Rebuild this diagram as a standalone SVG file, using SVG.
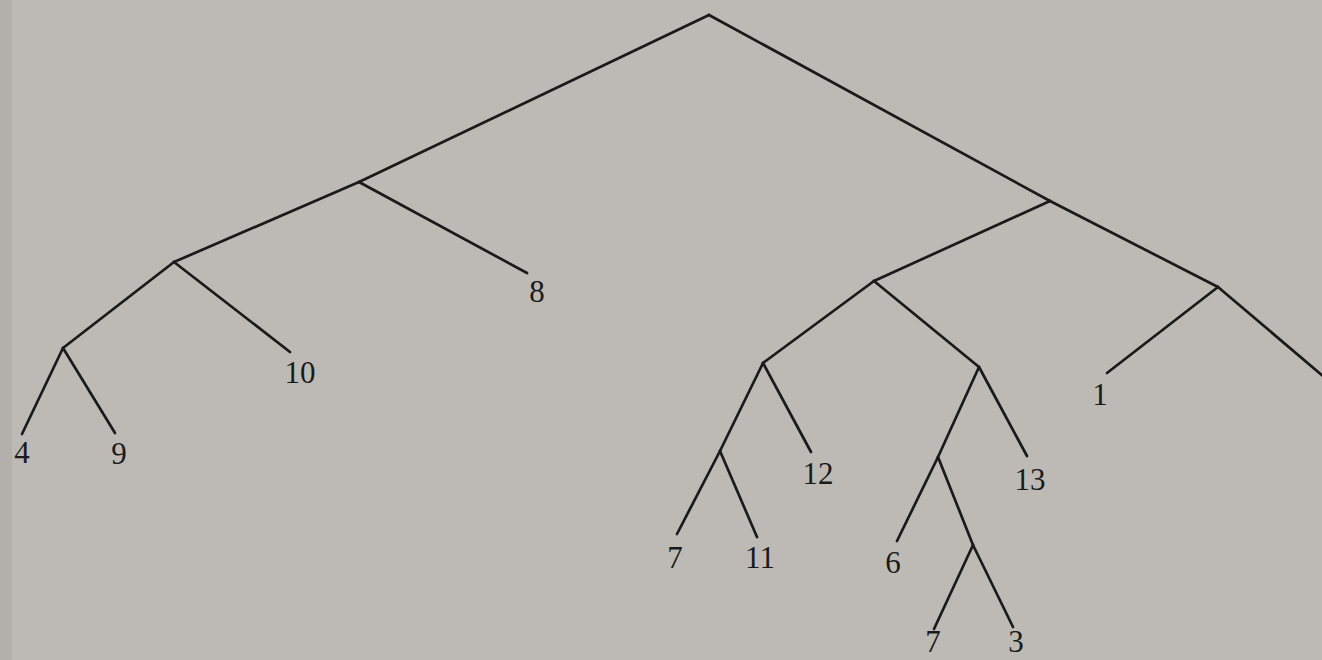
<svg xmlns="http://www.w3.org/2000/svg" width="1322" height="660" viewBox="0 0 1322 660">
  <style>
    .edge { stroke: #1a1a1a; stroke-width: 2.7; stroke-linecap: round; fill: none; }
    .lbl { font-family: "Liberation Serif", "Times New Roman", serif; font-size: 31px; fill: #1a1a1a; text-anchor: middle; }
  </style>
  <rect x="0" y="0" width="1322" height="660" fill="#bdbab5"/>
  <rect x="0" y="0" width="12" height="660" fill="#b3b0ab"/>
  <g id="connectors">
    <line class="edge" x1="709" y1="15" x2="359" y2="182"/>
    <line class="edge" x1="359" y1="182" x2="174" y2="262"/>
    <line class="edge" x1="174" y1="262" x2="63" y2="348"/>
    <line class="edge" x1="63" y1="348" x2="22" y2="434"/>
    <line class="edge" x1="63" y1="348" x2="115" y2="433"/>
    <line class="edge" x1="174" y1="262" x2="290" y2="352"/>
    <line class="edge" x1="359" y1="182" x2="527" y2="273"/>
    <line class="edge" x1="709" y1="15" x2="1050" y2="201"/>
    <line class="edge" x1="1050" y1="201" x2="874" y2="281"/>
    <line class="edge" x1="874" y1="281" x2="763" y2="363"/>
    <line class="edge" x1="763" y1="363" x2="720" y2="451"/>
    <line class="edge" x1="720" y1="451" x2="677" y2="534"/>
    <line class="edge" x1="720" y1="451" x2="757" y2="537"/>
    <line class="edge" x1="763" y1="363" x2="811" y2="452"/>
    <line class="edge" x1="874" y1="281" x2="979" y2="367"/>
    <line class="edge" x1="979" y1="367" x2="938" y2="457"/>
    <line class="edge" x1="938" y1="457" x2="897" y2="541"/>
    <line class="edge" x1="938" y1="457" x2="973" y2="545"/>
    <line class="edge" x1="973" y1="545" x2="934" y2="629"/>
    <line class="edge" x1="973" y1="545" x2="1013" y2="627"/>
    <line class="edge" x1="979" y1="367" x2="1027" y2="456"/>
    <line class="edge" x1="1050" y1="201" x2="1218" y2="287"/>
    <line class="edge" x1="1218" y1="287" x2="1107" y2="373"/>
    <line class="edge" x1="1218" y1="287" x2="1330" y2="382"/>
  </g>
  <g id="leaf-8"><text class="lbl" x="537" y="302">8</text></g>
  <g id="leaf-10"><text class="lbl" x="300" y="383">10</text></g>
  <g id="leaf-4"><text class="lbl" x="22" y="463">4</text></g>
  <g id="leaf-9"><text class="lbl" x="119" y="464">9</text></g>
  <g id="leaf-7a"><text class="lbl" x="675" y="568">7</text></g>
  <g id="leaf-11"><text class="lbl" x="760" y="568">11</text></g>
  <g id="leaf-12"><text class="lbl" x="818" y="484">12</text></g>
  <g id="leaf-6"><text class="lbl" x="893" y="573">6</text></g>
  <g id="leaf-13"><text class="lbl" x="1030" y="490">13</text></g>
  <g id="leaf-7b"><text class="lbl" x="933" y="652">7</text></g>
  <g id="leaf-3"><text class="lbl" x="1016" y="652">3</text></g>
  <g id="leaf-1"><text class="lbl" x="1100" y="405">1</text></g>
</svg>
